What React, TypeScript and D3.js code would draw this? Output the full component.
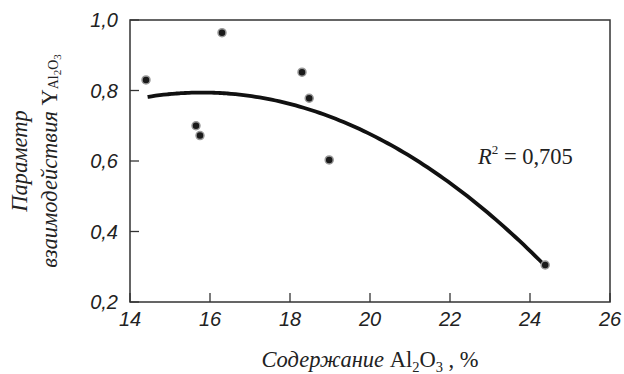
import React from "react";
import * as d3 from "d3";

// measured points: Al2O3 content (%) vs interaction parameter
const alContent = [14.4, 16.3, 15.65, 15.75, 18.3, 18.48, 18.98, 24.38];
const yParam = [0.83, 0.964, 0.7, 0.672, 0.852, 0.778, 0.603, 0.305];

// quadratic trend y = c0 + c1*x + c2*x^2
const fitCoef = [-0.8736, 0.2111, -0.00668];
const fitRange = [14.44, 24.4];

const xTicks = [14, 16, 18, 20, 22, 24, 26];
const yTicks = [0.2, 0.4, 0.6, 0.8, 1.0];

const W = 624;
const H = 374;
const margin = { top: 20, right: 14, bottom: 72, left: 130 };
const innerW = W - margin.left - margin.right;
const innerH = H - margin.top - margin.bottom;

const serif = "'Liberation Serif', 'Times New Roman', serif";
const sans = "'Liberation Sans', Arial, sans-serif";

const App: React.FC = () => {
  const x = d3.scaleLinear().domain([14, 26]).range([0, innerW]);
  const y = d3.scaleLinear().domain([0.2, 1.0]).range([innerH, 0]);

  const fit = (v: number) => fitCoef[0] + fitCoef[1] * v + fitCoef[2] * v * v;
  const curveX = d3.range(fitRange[0], fitRange[1] + 0.001, 0.1);
  const line = d3
    .line<number>()
    .x((d) => x(d))
    .y((d) => y(fit(d)))
    .curve(d3.curveMonotoneX);

  const fmt = (v: number) => v.toFixed(1).replace(".", ",");
  const tickLen = 9;

  return (
    <svg
      width={W}
      height={H}
      style={{ position: "absolute", left: 0, top: 0, background: "#fff" }}
    >
      <g transform={`translate(${margin.left},${margin.top})`}>
        {/* frame */}
        <rect
          x={0}
          y={0}
          width={innerW}
          height={innerH}
          fill="none"
          stroke="#333"
          strokeWidth={1.5}
        />

        {/* x ticks */}
        {xTicks.map((t) => (
          <g key={"x" + t} transform={`translate(${x(t)},0)`}>
            <line y1={innerH} y2={innerH - tickLen} stroke="#333" strokeWidth={1.3} />
            <text
              y={innerH + 24}
              textAnchor="middle"
              fontFamily={sans}
              fontStyle="italic"
              fontSize={20}
              fill="#222"
            >
              {t}
            </text>
          </g>
        ))}

        {/* y ticks */}
        {yTicks.map((t) => (
          <g key={"y" + t} transform={`translate(0,${y(t)})`}>
            <line x1={0} x2={tickLen} stroke="#333" strokeWidth={1.3} />
            <text
              x={-12}
              dy="0.36em"
              textAnchor="end"
              fontFamily={sans}
              fontStyle="italic"
              fontSize={20}
              fill="#222"
            >
              {fmt(t)}
            </text>
          </g>
        ))}

        {/* trend curve */}
        <path d={line(curveX) || ""} fill="none" stroke="#111" strokeWidth={3.8} />

        {/* points */}
        {alContent.map((v, i) => (
          <circle
            key={"p" + i}
            cx={x(v)}
            cy={y(yParam[i])}
            r={4}
            fill="#1a1a1a"
            stroke="#999"
            strokeWidth={1.5}
          />
        ))}

        {/* R^2 label */}
        <text x={348} y={144} fontFamily={serif} fontSize={22.5} fill="#222">
          <tspan fontStyle="italic">R</tspan>
          <tspan fontSize={13} dy={-10}>2</tspan>
          <tspan dy={10}> = 0,705</tspan>
        </text>
      </g>

      {/* x axis title */}
      <text
        x={370}
        y={367}
        textAnchor="middle"
        fontFamily={serif}
        fontSize={22.5}
        fill="#222"
      >
        <tspan fontStyle="italic">Содержание </tspan>
        <tspan>Al</tspan>
        <tspan fontSize={14.5} dy={5}>2</tspan>
        <tspan dy={-5}>O</tspan>
        <tspan fontSize={14.5} dy={5}>3</tspan>
        <tspan dy={-5}> , %</tspan>
      </text>

      {/* y axis title */}
      <g transform={`translate(0,${margin.top + innerH / 2}) rotate(-90)`}>
        <text
          x={0}
          y={27}
          textAnchor="middle"
          fontFamily={serif}
          fontStyle="italic"
          fontSize={22.5}
          fill="#222"
        >
          Параметр
        </text>
        <text x={0} y={57} textAnchor="middle" fontFamily={serif} fontSize={22.5} fill="#222">
          <tspan fontStyle="italic">взаимодействия </tspan>
          <tspan>Y</tspan>
          <tspan fontSize={14} dy={1}>Al</tspan>
          <tspan fontSize={11} dy={3}>2</tspan>
          <tspan fontSize={14} dy={-3}>O</tspan>
          <tspan fontSize={11} dy={3}>3</tspan>
        </text>
      </g>
    </svg>
  );
};

export default App;
